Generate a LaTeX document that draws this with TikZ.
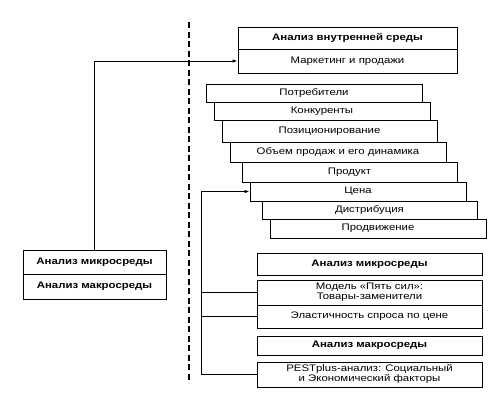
\documentclass[tikz,border=0pt]{standalone}
\usepackage{fontspec}
\setmainfont{Liberation Sans}
\usetikzlibrary{arrows.meta}
\newcommand\sxt[1]{\scalebox{1.2}[1]{#1}}
\newcommand\sxtwo[2]{\scalebox{1.2}[1]{\begin{tabular}{@{}c@{}}#1\\[-1.5pt]#2\end{tabular}}}
\begin{document}
\begin{tikzpicture}[x=1pt,y=-1pt,
  box/.style={draw, line width=0.8pt, fill=white, inner sep=0pt, font=\fontsize{9.5}{11}\selectfont, align=center},
  hdr/.style={box, font=\fontsize{9.5}{11}\selectfont\bfseries},
  conn/.style={line width=1pt},
  arr/.style={conn, -{Latex[length=5pt,width=3.5pt]}}]
\useasboundingbox (0,0) rectangle (498,400);
% dashed separator
\coordinate (dtop) at (189,22);
\coordinate (dbot) at (189,383);
\draw[line width=1.4pt, dash pattern=on 6pt off 3.5pt] (dtop) -- (dbot);
% internal analysis
\node[hdr, minimum width=219pt, minimum height=22pt] (inner) at (347.5,38) {\sxt{Анализ внутренней среды}};
\node[box, minimum width=219pt, minimum height=24pt] (mark) at (347.5,61) {\sxt{Маркетинг и продажи}};
% stairs
\node[box, minimum width=216pt, minimum height=18pt] (s1) at (314,93) {\sxt{Потребители}};
\node[box, minimum width=216pt, minimum height=18pt] (s2) at (322,111) {\sxt{Конкуренты}};
\node[box, minimum width=215pt, minimum height=22pt] (s3) at (329.5,131) {\sxt{Позиционирование}};
\node[box, minimum width=216pt, minimum height=20pt] (s4) at (338,152) {\sxt{Объем продаж и его динамика}};
\node[box, minimum width=215pt, minimum height=20pt] (s5) at (349.5,172) {\sxt{Продукт}};
\node[box, minimum width=216pt, minimum height=19pt] (s6) at (358,191.5) {\sxt{Цена}};
\node[box, minimum width=215pt, minimum height=18pt] (s7) at (369.5,210) {\sxt{Дистрибуция}};
\node[box, minimum width=216pt, minimum height=19pt] (s8) at (378,228.5) {\sxt{Продвижение}};
% micro / macro on right
\node[hdr, minimum width=225pt, minimum height=22pt] (mic) at (369.5,264) {\sxt{Анализ микросреды}};
\node[box, minimum width=225pt, minimum height=25pt] (model) at (369.5,292.5) {\sxtwo{Модель «Пять сил»:}{Товары-заменители}};
\node[box, minimum width=225pt, minimum height=23pt] (elast) at (369.5,316.5) {\sxt{Эластичность спроса по цене}};
\node[hdr, minimum width=225pt, minimum height=19pt] (mac) at (369.5,345.5) {\sxt{Анализ макросреды}};
\node[box, minimum width=225pt, minimum height=25pt] (pest) at (369.5,374.5) {\sxtwo{PESTplus-анализ: Социальный}{и Экономический факторы}};
% left box
\node[hdr, minimum width=143pt, minimum height=24pt] (lmic) at (94.5,262) {\sxt{Анализ микросреды}};
\node[hdr, minimum width=143pt, minimum height=25pt] (lmac) at (94.5,286.5) {\sxt{Анализ макросреды}};
% connectors
\draw[arr] (lmic.north) |- (mark.west);
\coordinate (trunk) at (201,374.5);
\draw[arr] (pest.west) -- (trunk) |- (s6.west);
\draw[conn] (model.west) -- (model.west -| trunk);
\draw[conn] (elast.west) -- (elast.west -| trunk);
\end{tikzpicture}
\end{document}
